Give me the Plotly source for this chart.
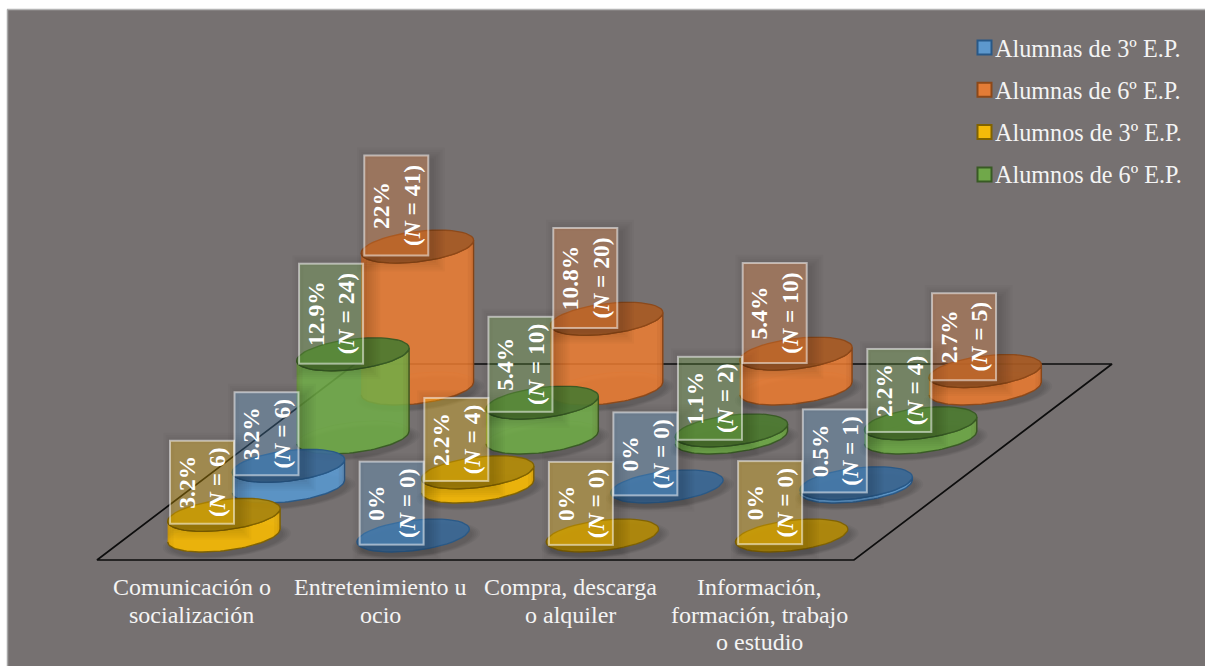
import math
import plotly.graph_objects as go

# Usage shares per activity and group of pupils (percent, and head count N)
categories = [
    "Comunicación o<br>socialización",
    "Entretenimiento u<br>ocio",
    "Compra, descarga<br>o alquiler",
    "Información,<br>formación, trabajo<br>o estudio",
]
alumnas_3_pct = [3.2, 0, 0, 0.5]
alumnas_6_pct = [22, 10.8, 5.4, 2.7]
alumnos_3_pct = [3.2, 2.2, 0, 0]
alumnos_6_pct = [12.9, 5.4, 1.1, 2.2]
alumnas_3_n = [6, 0, 0, 1]
alumnas_6_n = [41, 20, 10, 5]
alumnos_3_n = [6, 4, 0, 0]
alumnos_6_n = [24, 10, 2, 4]

series = {
    "Alumnas de 3º E.P.": (alumnas_3_pct, alumnas_3_n),
    "Alumnas de 6º E.P.": (alumnas_6_pct, alumnas_6_n),
    "Alumnos de 3º E.P.": (alumnos_3_pct, alumnos_3_n),
    "Alumnos de 6º E.P.": (alumnos_6_pct, alumnos_6_n),
}

# Depth order of the cylinders in each category, front row first
row_order = [
    ["Alumnos de 3º E.P.", "Alumnas de 3º E.P.", "Alumnos de 6º E.P.", "Alumnas de 6º E.P."],
    ["Alumnas de 3º E.P.", "Alumnos de 3º E.P.", "Alumnos de 6º E.P.", "Alumnas de 6º E.P."],
    ["Alumnos de 3º E.P.", "Alumnas de 3º E.P.", "Alumnos de 6º E.P.", "Alumnas de 6º E.P."],
    ["Alumnos de 3º E.P.", "Alumnas de 3º E.P.", "Alumnos de 6º E.P.", "Alumnas de 6º E.P."],
]

# name: (base rgb, top rgb, outline rgb)
palette = {
    "Alumnas de 3º E.P.": ((91, 155, 213), (58, 104, 150), (40, 88, 135)),
    "Alumnas de 6º E.P.": ((237, 125, 49), (168, 90, 36), (140, 72, 24)),
    "Alumnos de 3º E.P.": ((255, 192, 0), (178, 138, 8), (128, 98, 0)),
    "Alumnos de 6º E.P.": ((112, 173, 71), (76, 122, 48), (56, 90, 36)),
}

WIDTH, HEIGHT = 1205, 666
X0, Y0 = 97, 560            # front-left corner of the floor, in page pixels
CAT_PX, PCT_PX = 189.25, 6.45
SHEAR = 64.5 / CAT_PX       # sideways drift per depth row, in category units
RISE = 49 / PCT_PX          # upward drift per depth row, in percent units
RC, RD = 0.274, 0.337       # cylinder radius along category and depth

# Label boxes whose length differs from the default for their text
box_length = {(1, "Alumnos de 6º E.P."): 95, (3, "Alumnas de 6º E.P."): 87}


def rgba(c, a):
    return f"rgba({c[0]},{c[1]},{c[2]},{a})"


def ell(cx, cy, t):
    """Point of the sheared floor circle at angle t."""
    u, w = RC * math.cos(t), RD * math.sin(t)
    return cx + u + SHEAR * w, cy + RISE * w


def arc(cx, cy, t1, t2, n=48):
    pts = [ell(cx, cy, t1 + (t2 - t1) * i / n) for i in range(n + 1)]
    return [p[0] for p in pts], [p[1] for p in pts]


def poly(xs, ys, fill, line=None, lw=0):
    return go.Scatter(
        x=xs, y=ys, mode="lines", fill="toself", fillcolor=fill,
        line=dict(color=line or "rgba(0,0,0,0)", width=lw),
        hoverinfo="skip", showlegend=False,
    )


T0 = math.atan2(SHEAR * RD, RC)   # silhouette angle of the ellipse
fig = go.Figure()

# Floor outline
fig.add_trace(go.Scatter(
    x=[SHEAR * 4, 0, 4, 4 + SHEAR * 4, SHEAR * 4],
    y=[RISE * 4, 0, 0, RISE * 4, RISE * 4],
    mode="lines", line=dict(color="#0d0d0d", width=1.7),
    hoverinfo="skip", showlegend=False,
))

labels = []
# Back row first so that nearer cylinders are painted over farther ones
for row in (3, 2, 1, 0):
    for c, order in enumerate(row_order):
        name = order[row]
        val = series[name][0][c]
        n_val = series[name][1][c]
        base, top, edge = palette[name]
        d = row + 0.5
        cx = c + 0.5 + SHEAR * d
        by = RISE * d
        ty = by + val

        # Soft contact shadow on the floor
        for k in range(5):
            grow = 1 + 0.035 * k
            sx = [cx + 3 / CAT_PX + (x - cx) * grow for x in arc(cx, by, 0, 2 * math.pi)[0]]
            sy = [by - 5 / PCT_PX + (y - by) * grow for y in arc(cx, by, 0, 2 * math.pi)[1]]
            fig.add_trace(poly(sx, sy, "rgba(0,0,0,0.035)"))

        if val > 0:
            # Base disc seen through the translucent wall
            bx, byy = arc(cx, by, 0, 2 * math.pi)
            fig.add_trace(poly(bx, byy, rgba(base, 0.10)))
            bkx, bky = arc(cx, by, T0, T0 + math.pi)
            fig.add_trace(go.Scatter(x=bkx, y=bky, mode="lines",
                                     line=dict(color=rgba(edge, 0.22), width=1),
                                     hoverinfo="skip", showlegend=False))
            # Wall
            fx, fy = arc(cx, by, T0 - math.pi, T0)
            rx, ry = arc(cx, ty, T0, T0 - math.pi)
            fig.add_trace(poly(fx + rx, fy + ry, rgba(base, 0.85), rgba(edge, 0.95), 1.4))
            # Darkening towards both silhouette edges
            for span in (0.10, 0.20, 0.32, 0.46):
                for a, b in ((T0 - math.pi, T0 - math.pi + span), (T0 - span, T0)):
                    ax, ay = arc(cx, by, a, b, 10)
                    tx, tyy = arc(cx, ty, b, a, 10)
                    fig.add_trace(poly(ax + tx, ay + tyy, "rgba(60,25,0,0.045)"))

        # Top disc
        tx, tyy = arc(cx, ty, 0, 2 * math.pi)
        fig.add_trace(poly(tx, tyy, rgba(top, 0.93), rgba(edge, 0.95), 1.3))

        h = box_length.get((c, name), 100 if n_val >= 10 else 83)
        labels.append((cx, ty, val, n_val, name, h))

# Blurred shadow ring around each value label
for cx, ty, val, n_val, name, h in labels:
    left = cx - (21.5 + 32) / CAT_PX
    right = cx + (-21.5 + 32) / CAT_PX
    low = ty - 9 / PCT_PX
    high = ty + (h - 9) / PCT_PX
    for k in range(6):
        ex = (k * 2.2 + 1) / CAT_PX
        ey = (k * 2.2 + 1) / PCT_PX
        ox, oy = 5 / CAT_PX, -4 / PCT_PX
        xo = [left + ox - ex, right + ox + ex, right + ox + ex, left + ox - ex, left + ox - ex]
        yo = [high + oy + ey, high + oy + ey, low + oy - ey, low + oy - ey, high + oy + ey]
        xi = [left, left, right, right, left]
        yi = [high, low, low, high, high]
        fig.add_trace(poly(xo + xi + [xo[0]], yo + yi + [yo[0]], "rgba(0,0,0,0.022)"))

# Legend entries
for name in series:
    fig.add_trace(go.Scatter(
        x=[None], y=[None], mode="markers", name=name, legendgroup=name,
        marker=dict(symbol="square", size=1, color="rgba(0,0,0,0)"),
    ))

annotations = []
for cx, ty, val, n_val, name, h in labels:
    annotations.append(dict(
        x=cx, y=ty, xref="x", yref="y", showarrow=False,
        text=f"<b>{val:g}%<br>(<i>N</i> = {n_val})</b>",
        textangle=-90, xanchor="center", yanchor="middle",
        xshift=-21.5, yshift=h / 2 - 9, width=h - 2, height=62, borderpad=0,
        align="center", valign="middle",
        bgcolor=rgba(palette[name][0], 0.30),
        bordercolor="rgba(255,255,255,0.52)", borderwidth=2,
        font=dict(family="Liberation Serif", size=23.5, color="white"),
    ))

for c, cat in enumerate(categories):
    for i, line in enumerate(cat.split("<br>")):
        annotations.append(dict(
            x=c + 0.5, y=0, xref="x", yref="y", showarrow=False, text=line,
            xanchor="center", yanchor="middle", yshift=-(27 + 27.6 * i),
            font=dict(family="Liberation Serif", size=24, color="#F4F4F4"),
        ))

# Panel background, its pale edge, and the legend swatches
shapes = [
    dict(type="rect", xref="paper", yref="paper", layer="below",
         x0=7 / WIDTH, x1=1, y0=0, y1=1 - 9.5 / HEIGHT,
         fillcolor="#767171", line_width=0),
    dict(type="line", xref="paper", yref="paper", layer="below",
         x0=7 / WIDTH, x1=1, y0=1 - 9.5 / HEIGHT, y1=1 - 9.5 / HEIGHT,
         line=dict(color="#b4b4b4", width=1.5)),
    dict(type="line", xref="paper", yref="paper", layer="below",
         x0=7.5 / WIDTH, x1=7.5 / WIDTH, y0=0, y1=1 - 9.5 / HEIGHT,
         line=dict(color="#a8a8a8", width=1.5)),
]
for i, name in enumerate(series):
    yc = 47.5 + 42.3 * i
    shapes.append(dict(
        type="rect", xref="paper", yref="paper", layer="above",
        x0=977.5 / WIDTH, x1=991.5 / WIDTH,
        y0=1 - (yc + 7) / HEIGHT, y1=1 - (yc - 7) / HEIGHT,
        fillcolor=rgba(palette[name][0], 0.92),
        line=dict(color=rgba(palette[name][2], 1), width=2),
    ))

fig.update_layout(
    width=WIDTH, height=HEIGHT, autosize=False,
    margin=dict(l=0, r=0, t=0, b=0),
    paper_bgcolor="white", plot_bgcolor="rgba(0,0,0,0)",
    xaxis=dict(range=[-X0 / CAT_PX, (WIDTH - X0) / CAT_PX], visible=False, fixedrange=True),
    yaxis=dict(range=[-(HEIGHT - Y0) / PCT_PX, Y0 / PCT_PX], visible=False, fixedrange=True),
    showlegend=True,
    legend=dict(
        x=955 / WIDTH, xanchor="left", y=1 - 25 / HEIGHT, yanchor="top",
        bgcolor="rgba(0,0,0,0)", tracegroupgap=7.8, itemclick=False, itemdoubleclick=False,
        font=dict(family="Liberation Serif", size=24.2, color="#F4F4F4"),
    ),
    shapes=shapes, annotations=annotations, hovermode=False,
)

fig.write_html("out.html", config={"displayModeBar": False})
